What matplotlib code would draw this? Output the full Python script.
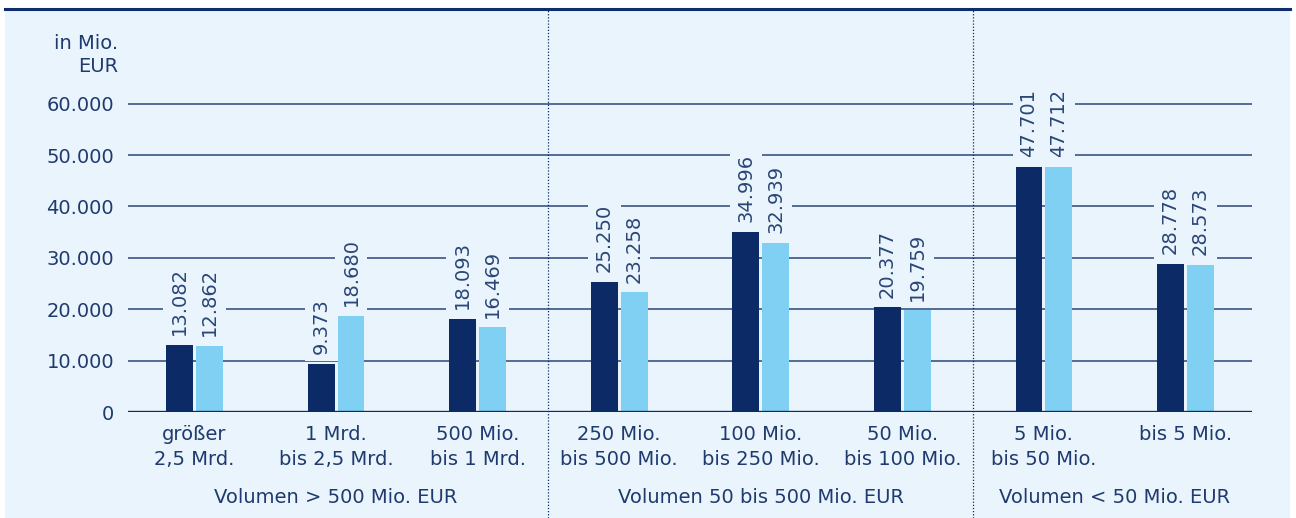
import matplotlib.pyplot as plt
from matplotlib.patches import Rectangle
from matplotlib.lines import Line2D

plt.rcParams['font.family'] = ['DejaVu Sans']

# Daten
categories = ["größer\n2,5 Mrd.", "1 Mrd.\nbis 2,5 Mrd.", "500 Mio.\nbis 1 Mrd.",
              "250 Mio.\nbis 500 Mio.", "100 Mio.\nbis 250 Mio.", "50 Mio.\nbis 100 Mio.",
              "5 Mio.\nbis 50 Mio.", "bis 5 Mio."]
series_a = [13082, 9373, 18093, 25250, 34996, 20377, 47701, 28778]
series_b = [12862, 18680, 16469, 23258, 32939, 19759, 47712, 28573]
groups = ["Volumen > 500 Mio. EUR", "Volumen 50 bis 500 Mio. EUR", "Volumen < 50 Mio. EUR"]
group_centers = [1, 4, 6.5]
dividers = [2.5, 5.5]
yticks = [0, 10000, 20000, 30000, 40000, 50000, 60000]

BG = "#EAF4FC"
DARK = "#0B2A66"
LIGHT = "#80D0F4"
TXT = "#1E3A6E"
GRID = "#2B4679"

fig = plt.figure(figsize=(12.96, 5.18), dpi=100)
fig.patch.set_facecolor("white")
fig.patches.append(Rectangle((5 / 1296, 0), 1285 / 1296, 1 - 10 / 518,
                             transform=fig.transFigure, facecolor=BG, edgecolor="none", zorder=-10))
fig.lines.append(Line2D([5 / 1296, 1290 / 1296], [1 - 9 / 518] * 2, transform=fig.transFigure,
                        color="#0F2D6B", lw=2.2))

ax = fig.add_axes([128 / 1296, 106 / 518, 1124 / 1296, 334 / 518])
ax.set_facecolor("none")

x = range(len(categories))
w = 0.19
off = 0.105
ax.bar([i - off for i in x], series_a, w, color=DARK, zorder=3)
ax.bar([i + off for i in x], series_b, w, color=LIGHT, zorder=3)

for y in yticks[1:]:
    ax.axhline(y, color=GRID, lw=1.1, zorder=1)
ax.axhline(0, color=DARK, lw=2.4, zorder=4)

def fmt(v):
    return f"{v:,}".replace(",", ".")

for i in x:
    for dx, v in ((-off, series_a[i]), (off, series_b[i])):
        ax.text(i + dx, v + 1900, fmt(v), rotation=90, ha="center", va="bottom",
                fontsize=14, color="#2A4677", zorder=2,
                bbox=dict(boxstyle="square,pad=0.35", facecolor=BG, edgecolor="none"))

ax.set_xlim(-0.47, 7.47)
ax.set_ylim(0, 65000)
ax.set_yticks(yticks)
ax.set_yticklabels([fmt(v) for v in yticks], fontsize=14, color=TXT)
ax.set_xticks(list(x))
ax.set_xticklabels(categories, fontsize=14, color=TXT, linespacing=1.45)
ax.tick_params(axis="both", length=0)
ax.tick_params(axis="y", pad=10)
ax.tick_params(axis="x", pad=9)
for s in ax.spines.values():
    s.set_visible(False)

for c, g in zip(group_centers, groups):
    ax.text(c, -0.257, g, transform=ax.get_xaxis_transform(), ha="center", va="center",
            fontsize=14, color=TXT)

for d in dividers:
    xf = (128 + (d + 0.47) / 7.94 * 1124) / 1296
    fig.lines.append(Line2D([xf, xf], [0, 1 - 10 / 518], transform=fig.transFigure,
                            color=DARK, lw=0.9, ls=(0, (1, 1.5))))

fig.text(118 / 1296, 1 - 34 / 518, "in Mio.\nEUR", ha="right", va="top", fontsize=14,
         color=TXT, linespacing=1.3)

fig.savefig("out.png", dpi=100, facecolor=fig.get_facecolor())
